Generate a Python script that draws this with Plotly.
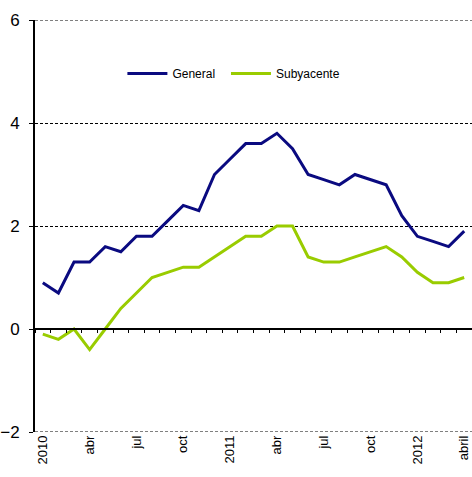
import plotly.graph_objects as go

months = ["ene10","feb10","mar10","abr10","may10","jun10","jul10","ago10","sep10","oct10","nov10","dic10",
          "ene11","feb11","mar11","abr11","may11","jun11","jul11","ago11","sep11","oct11","nov11","dic11",
          "ene12","feb12","mar12","abr12"]
general = [0.9,0.7,1.3,1.3,1.6,1.5,1.8,1.8,2.1,2.4,2.3,3.0,
           3.3,3.6,3.6,3.8,3.5,3.0,2.9,2.8,3.0,2.9,2.8,2.2,
           1.8,1.7,1.6,1.9]
subyacente = [-0.1,-0.2,0.0,-0.4,0.0,0.4,0.7,1.0,1.1,1.2,1.2,1.4,
              1.6,1.8,1.8,2.0,2.0,1.4,1.3,1.3,1.4,1.5,1.6,1.4,
              1.1,0.9,0.9,1.0]
tick_idx = [0,3,6,9,12,15,18,21,24,27]
tick_labels = ["2010","abr","jul","oct","2011","abr","jul","oct","2012","abril"]
yticks = [-2,0,2,4,6]

x = list(range(len(months)))
n = len(months)
ymin, ymax = -2, 6

fig = go.Figure()
fig.add_trace(go.Scatter(x=x, y=general, mode="lines", name="General",
                         line=dict(color="#0a0a80", width=3), legend="legend"))
fig.add_trace(go.Scatter(x=x, y=subyacente, mode="lines", name="Subyacente",
                         line=dict(color="#99cc00", width=3), legend="legend2"))
# invisible trace to host the zero-line axis with category ticks
fig.add_trace(go.Scatter(x=[-0.5, n-0.5], y=[0, 0], xaxis="x2", mode="lines",
                         line=dict(color="rgba(0,0,0,0)"), showlegend=False, hoverinfo="skip"))

# dashed gridlines at the top and bottom edges
for yv in (ymin, ymax):
    fig.add_hline(y=yv, line=dict(color="black", width=1, dash="3px,2px"), layer="below")

leg_common = dict(orientation="h", y=0.87, xanchor="left", yanchor="middle",
                  font=dict(size=12), bgcolor="rgba(0,0,0,0)", itemwidth=40)

fig.update_layout(
    width=472, height=477,
    margin=dict(l=35, r=0, t=20, b=45),
    paper_bgcolor="white", plot_bgcolor="white",
    font=dict(family="Liberation Sans, Arial, sans-serif", color="black"),
    legend=dict(x=0.2, **leg_common),
    legend2=dict(x=0.437, **leg_common),
    xaxis=dict(range=[-0.5, n-0.5], tickmode="array", tickvals=tick_idx, ticktext=tick_labels,
               tickangle=-90, showgrid=False, zeroline=False, showline=False, ticks="",
               tickfont=dict(size=13)),
    xaxis2=dict(range=[-0.5, n-0.5], overlaying="x", anchor="free",
                position=(0 - ymin) / (ymax - ymin),
                side="bottom", showline=True, linecolor="black", linewidth=2,
                tickmode="array", tickvals=[i-0.5 for i in range(n+1)], ticks="outside",
                ticklen=3, tickcolor="black", tickwidth=1, showticklabels=False,
                showgrid=False, zeroline=False),
    yaxis=dict(range=[ymin, ymax], tickvals=yticks, showgrid=True, gridcolor="black",
               griddash="3px,2px", gridwidth=1, zeroline=False, showline=True,
               linecolor="black", linewidth=2, ticks="outside", ticklen=4,
               tickcolor="black", tickfont=dict(size=17), ticklabelstandoff=6),
)
fig.write_html("out.html", config={"displayModeBar": False},
               post_script="document.body.style.margin='0';document.body.style.overflow='hidden';")
